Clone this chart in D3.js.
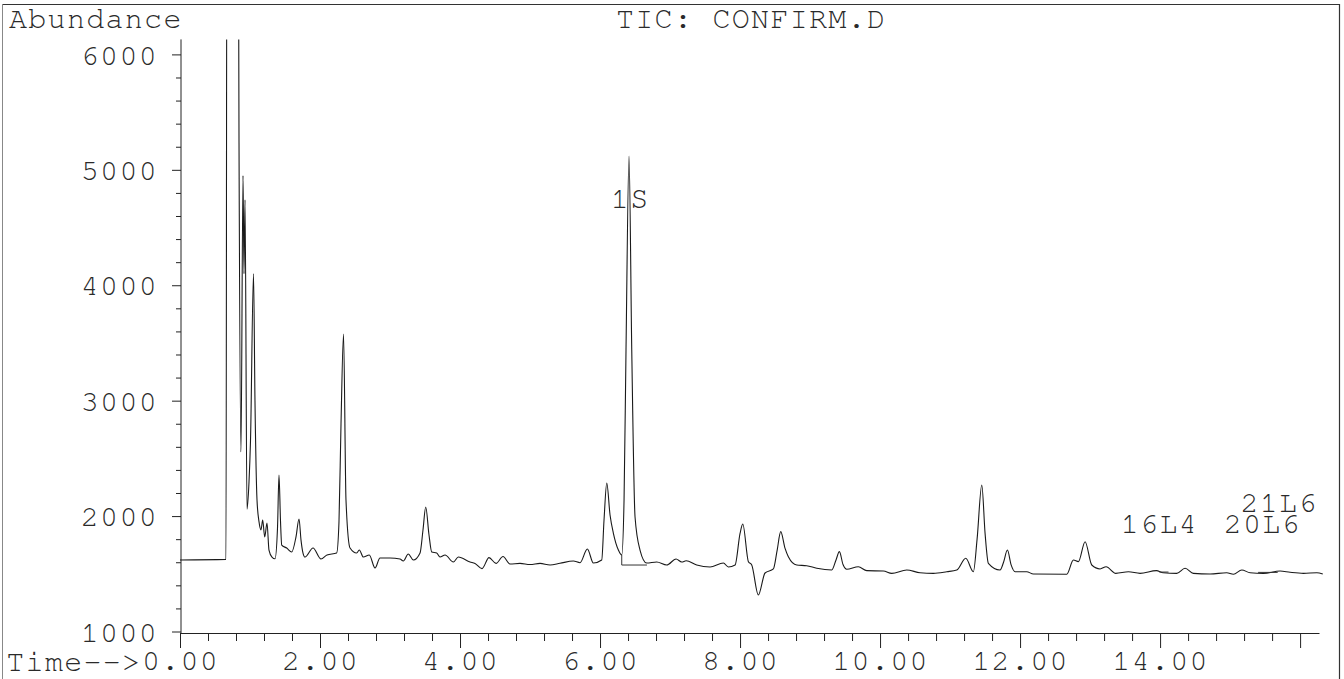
<!DOCTYPE html>
<html>
<head>
<meta charset="utf-8">
<script src="https://cdn.jsdelivr.net/npm/d3@7"></script>
<style>
  body { margin: 0; background: #fff; }
  svg text { font-family: "Nimbus Mono PS", "FreeMono", "Courier New", "Liberation Mono", monospace; fill: #2a2a2a; letter-spacing: 1.3px; }
</style>
</head>
<body>
<svg id="chart" width="1344" height="679"></svg>
<script>
// retention time (min) and abundance
var times = [
  0.00, 0.657, 0.671, 0.829, 0.843, 0.871, 0.900, 0.914, 0.929, 0.957,
  0.986, 1.007, 1.050, 1.071, 1.100, 1.129, 1.157, 1.181, 1.210, 1.243,
  1.271, 1.314, 1.357, 1.393, 1.414, 1.436, 1.453, 1.524, 1.596, 1.657,
  1.700, 1.729, 1.757, 1.786, 1.900, 2.014, 2.100, 2.238, 2.271, 2.300,
  2.336, 2.371, 2.429, 2.524, 2.561, 2.619, 2.704, 2.786, 2.857, 3.000,
  3.143, 3.190, 3.261, 3.333, 3.429, 3.471, 3.510, 3.557, 3.596, 3.667,
  3.714, 3.786, 3.905, 3.976, 4.143, 4.214, 4.314, 4.414, 4.514, 4.614,
  4.714, 4.857, 5.000, 5.143, 5.286, 5.428, 5.619, 5.714, 5.819, 5.905,
  6.024, 6.057, 6.096, 6.143, 6.190, 6.262, 6.310, 6.343, 6.371, 6.414,
  6.453, 6.500, 6.571, 6.667, 6.810, 6.953, 7.086, 7.167, 7.229, 7.381,
  7.571, 7.762, 7.833, 7.929, 8.000, 8.039, 8.119, 8.167, 8.261, 8.357,
  8.476, 8.529, 8.581, 8.643, 8.690, 8.810, 8.952, 9.096, 9.310, 9.371,
  9.419, 9.471, 9.524, 9.690, 9.810, 10.048, 10.167, 10.381, 10.571, 10.762,
  10.953, 11.096, 11.224, 11.333, 11.386, 11.453, 11.500, 11.547, 11.714, 11.764,
  11.819, 11.871, 11.929, 12.095, 12.190, 12.667, 12.762, 12.833, 12.929, 13.024,
  13.143, 13.229, 13.367, 13.548, 13.714, 13.948, 14.043, 14.238, 14.357, 14.476,
  14.714, 14.952, 15.048, 15.167, 15.286, 15.476, 15.714, 15.857, 16.048, 16.239,
  16.324
];
var abundance = [
  1620, 1625, 8000, 8000, 5230, 2555, 4950, 4100, 4740, 2060,
  2300, 2650, 4100, 3000, 2139, 1950, 1880, 1966, 1819, 1940,
  1706, 1645, 1630, 1900, 2356, 1950, 1749, 1723, 1689, 1820,
  1975, 1790, 1680, 1645, 1723, 1628, 1663, 1680, 1950, 2800,
  3577, 2139, 1723, 1680, 1706, 1645, 1663, 1550, 1637, 1637,
  1628, 1611, 1671, 1619, 1680, 1879, 2079, 1836, 1689, 1680,
  1645, 1663, 1602, 1645, 1602, 1590, 1545, 1640, 1590, 1650,
  1585, 1590, 1580, 1590, 1576, 1591, 1611, 1596, 1715, 1593,
  1619, 1966, 2287, 2009, 1853, 1706, 1663, 2139, 3439, 5120,
  3439, 1992, 1706, 1593, 1602, 1576, 1628, 1602, 1613, 1576,
  1559, 1593, 1559, 1576, 1850, 1931, 1605, 1576, 1316, 1507,
  1542, 1700, 1865, 1720, 1648, 1576, 1570, 1548, 1533, 1620,
  1692, 1580, 1539, 1561, 1527, 1524, 1504, 1533, 1509, 1504,
  1518, 1533, 1634, 1518, 1800, 2269, 1850, 1591, 1533, 1600,
  1706, 1580, 1518, 1518, 1498, 1496, 1619, 1605, 1778, 1576,
  1542, 1561, 1504, 1518, 1504, 1527, 1509, 1504, 1548, 1504,
  1498, 1509, 1496, 1533, 1509, 1504, 1524, 1513, 1504, 1509,
  1498
];

var yTickValues = [1000, 2000, 3000, 4000, 5000, 6000];
var yTickLabels = ["1000", "2000", "3000", "4000", "5000", "6000"];
var xTickValues = [0, 2, 4, 6, 8, 10, 12, 14, 16];
var xTickLabels = ["0.00", "2.00", "4.00", "6.00", "8.00", "10.00", "12.00", "14.00", ""];

// peak annotations (name, time, abundance)
var peakNames = ["1S", "16L4", "20L6", "21L6"];
var peakTimes = [6.43, 13.99, 15.46, 15.70];
var peakLevels = [4670, 1853, 1853, 2035];

// integration baselines drawn under the labelled peaks
var baseT = [[6.31, 6.31, 6.67], [13.99, 14.12], [15.40, 15.68]];
var baseV = [[1663, 1576, 1576], [1515, 1515], [1512, 1512]];

var data = times.map((t, i) => ({t: t, v: abundance[i]}));

var svg = d3.select("#chart");
var fontSize = 30;

var x = d3.scaleLinear().domain([0, 16.27]).range([180, 1319]);
var y = d3.scaleLinear().domain([1000, 6130]).range([631.5, 39.4]);

// page frame
svg.append("line").attr("x1", 2).attr("x2", 1339).attr("y1", 4.5).attr("y2", 4.5)
  .attr("stroke", "#333").attr("stroke-width", 1.2);
svg.append("line").attr("x1", 2.5).attr("x2", 2.5).attr("y1", 4).attr("y2", 679)
  .attr("stroke", "#888").attr("stroke-width", 1);
svg.append("line").attr("x1", 1339.5).attr("x2", 1339.5).attr("y1", 4).attr("y2", 679)
  .attr("stroke", "#333").attr("stroke-width", 1.2);

svg.append("defs").append("clipPath").attr("id", "plotClip")
  .append("rect").attr("x", 170).attr("y", 39.4).attr("width", 1170).attr("height", 600);

// y axis
var yMinor = d3.range(1000, 6130, 200).filter(d => d % 1000 !== 0);
svg.append("g")
  .attr("transform", "translate(181,0)")
  .call(d3.axisLeft(y).tickValues(yMinor).tickSize(5).tickFormat("").tickSizeOuter(0))
  .call(g => g.select(".domain").remove());
var yAxis = svg.append("g")
  .attr("transform", "translate(181,0)")
  .call(d3.axisLeft(y).tickValues(yTickValues).tickSize(9).tickPadding(14).tickSizeOuter(0)
    .tickFormat((d, i) => yTickLabels[i]));
yAxis.select(".domain").attr("d", "M0,39.4V633");

// x axis
var xMinor = d3.range(0, 16.27, 0.4).filter(d => Math.abs(d / 2 - Math.round(d / 2)) > 0.01);
svg.append("g")
  .attr("transform", "translate(0,633)")
  .call(d3.axisBottom(x).tickValues(xMinor).tickSize(8).tickFormat("").tickSizeOuter(0))
  .call(g => g.select(".domain").remove());
var xAxis = svg.append("g")
  .attr("transform", "translate(0,633)")
  .call(d3.axisBottom(x).tickValues(xTickValues).tickSize(15).tickPadding(1).tickSizeOuter(0)
    .tickFormat((d, i) => xTickLabels[i]));

svg.selectAll(".tick line, .domain").attr("stroke", "#222").attr("stroke-width", 1);
svg.selectAll(".tick text")
  .attr("font-family", null)
  .attr("font-size", fontSize).attr("fill", "#2a2a2a");

// trace
var line = d3.line().curve(d3.curveMonotoneX).x(d => x(d.t)).y(d => y(d.v));
svg.append("path")
  .datum(data)
  .attr("clip-path", "url(#plotClip)")
  .attr("d", line)
  .attr("fill", "none")
  .attr("stroke", "#1a1a1a")
  .attr("stroke-width", 1.1);

var baseLine = d3.line().x(d => x(d.t)).y(d => y(d.v));
baseT.forEach((ts, k) => {
  svg.append("path")
    .datum(ts.map((t, i) => ({t: t, v: baseV[k][i]})))
    .attr("d", baseLine)
    .attr("fill", "none")
    .attr("stroke", "#333")
    .attr("stroke-width", 1);
});

// peak labels
svg.selectAll(".peakLabel")
  .data(peakNames)
  .enter()
  .append("text")
  .classed("peakLabel", true)
  .attr("x", (d, i) => x(peakTimes[i]))
  .attr("y", (d, i) => y(peakLevels[i]))
  .attr("text-anchor", "middle")
  .attr("font-size", fontSize)
  .text(d => d);

// titles
svg.append("text").attr("x", 9).attr("y", 28).attr("font-size", fontSize).text("Abundance");
svg.append("text").attr("x", 616).attr("y", 28).attr("font-size", fontSize).text("TIC: CONFIRM.D");
svg.append("text").attr("x", x(0) - 38.6).attr("y", 671).attr("text-anchor", "end")
  .attr("font-size", fontSize).text("Time-->");
</script>
</body>
</html>
